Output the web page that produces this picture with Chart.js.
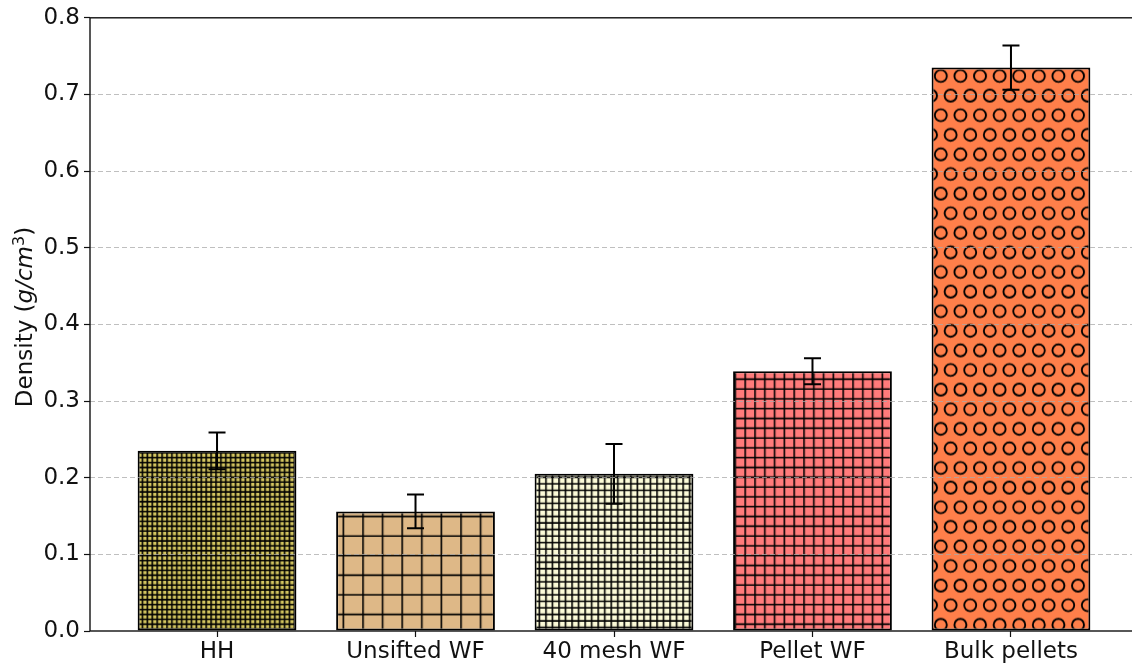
<!DOCTYPE html>
<html>
<head>
<meta charset="utf-8">
<script src="https://cdn.jsdelivr.net/npm/chart.js@4/dist/chart.umd.min.js"></script>
<style>
  html, body { margin: 0; padding: 0; background: #fff; overflow: hidden; }
  #wrap { width: 1132px; height: 666px; overflow: hidden; }
  canvas { display: block; }
</style>
</head>
<body>
<div id="wrap"><canvas id="chart" width="1140" height="666"></canvas></div>
<script>
// Bulk density of each material, with standard deviation
const categories = ['HH', 'Unsifted WF', '40 mesh WF', 'Pellet WF', 'Bulk pellets'];
const density = [0.235, 0.156, 0.205, 0.339, 0.735];
const densityErr = [0.024, 0.022, 0.039, 0.017, 0.029];
const yTickValues = [0.0, 0.1, 0.2, 0.3, 0.4, 0.5, 0.6, 0.7, 0.8];

// Fill colours and hatch styles per bar
const fillColors = ['#d4c660', '#deb887', '#fcfbd8', '#ff7b7b', '#ff7f4a'];
const hatchKinds = ['grid4', 'grid1', 'grid3', 'grid2', 'circles'];

const FONT = "'DejaVu Sans', sans-serif";
const UNIT = 19.6; // hatch repeat unit in px

function gridPattern(bg, perUnit) {
  const tile = UNIT * 5;
  const c = document.createElement('canvas');
  c.width = tile; c.height = tile;
  const g = c.getContext('2d');
  g.fillStyle = bg;
  g.fillRect(0, 0, tile, tile);
  g.strokeStyle = '#000';
  g.lineWidth = 1.6;
  const step = UNIT / perUnit;
  const n = Math.round(tile / step);
  g.beginPath();
  for (let k = 0; k <= n; k++) {
    const p = k * step;
    g.moveTo(p, 0); g.lineTo(p, tile);
    g.moveTo(0, p); g.lineTo(tile, p);
  }
  g.stroke();
  const pat = g.createPattern(c, 'repeat');
  pat.setTransform(new DOMMatrix().translate(10.2, 6.8));
  return pat;
}

function circlePattern(bg) {
  const w = UNIT * 5, h = UNIT * 10;
  const c = document.createElement('canvas');
  c.width = w; c.height = h;
  const g = c.getContext('2d');
  g.fillStyle = bg;
  g.fillRect(0, 0, w, h);
  g.strokeStyle = '#000';
  g.lineWidth = 1.9;
  for (let r = -1; r <= 11; r++) {
    const off = (Math.abs(r) % 2 === 1) ? UNIT / 2 : 0;
    for (let col = -1; col <= 6; col++) {
      g.beginPath();
      g.arc(col * UNIT + off, r * UNIT, 6, 0, Math.PI * 2);
      g.stroke();
    }
  }
  const pat = g.createPattern(c, 'repeat');
  pat.setTransform(new DOMMatrix().translate(0, -2.4));
  return pat;
}

function makeFill(kind, color) {
  if (kind === 'circles') return circlePattern(color);
  return gridPattern(color, parseInt(kind.replace('grid', ''), 10));
}

const fills = hatchKinds.map((k, i) => makeFill(k, fillColors[i]));

// Error bars with caps
const errorBars = {
  id: 'errorBars',
  afterDatasetsDraw(chart) {
    const ctx = chart.ctx;
    const y = chart.scales.y;
    const meta = chart.getDatasetMeta(0);
    ctx.save();
    ctx.strokeStyle = '#000';
    ctx.lineWidth = 2;
    meta.data.forEach((bar, i) => {
      const x = bar.x;
      const yTop = y.getPixelForValue(density[i] + densityErr[i]);
      const yBot = y.getPixelForValue(density[i] - densityErr[i]);
      ctx.beginPath();
      ctx.moveTo(x, yTop); ctx.lineTo(x, yBot);
      ctx.moveTo(x - 8.5, yTop); ctx.lineTo(x + 8.5, yTop);
      ctx.moveTo(x - 8.5, yBot); ctx.lineTo(x + 8.5, yBot);
      ctx.stroke();
    });
    ctx.restore();
  }
};

// Axes frame and y-axis title with italic units
const frameAndTitle = {
  id: 'frameAndTitle',
  afterDraw(chart) {
    const ctx = chart.ctx;
    const a = chart.chartArea;
    ctx.save();
    ctx.strokeStyle = '#111';
    ctx.lineWidth = 1.4;
    ctx.strokeRect(a.left, a.top, a.right - a.left, a.bottom - a.top);

    const parts = [
      { t: 'Density (', f: '23px ' + FONT, dy: 0 },
      { t: 'g/cm', f: 'oblique 23px ' + FONT, dy: 0 },
      { t: '3', f: '16px ' + FONT, dy: -8 },
      { t: ')', f: '23px ' + FONT, dy: 0 }
    ];
    let total = 0;
    parts.forEach(p => { ctx.font = p.f; p.w = ctx.measureText(p.t).width; total += p.w; });
    ctx.translate(32, 317);
    ctx.rotate(-Math.PI / 2);
    ctx.fillStyle = '#111';
    ctx.textBaseline = 'alphabetic';
    let x = -total / 2;
    parts.forEach(p => {
      ctx.font = p.f;
      ctx.fillText(p.t, x, p.dy);
      x += p.w;
    });
    ctx.restore();
  }
};

new Chart(document.getElementById('chart'), {
  type: 'bar',
  data: {
    datasets: [{
      data: density.map((v, i) => ({ x: i, y: v })),
      backgroundColor: fills,
      borderColor: '#000',
      borderWidth: 2,
      borderSkipped: false,
      barPercentage: 0.8,
      categoryPercentage: 1.0
    }]
  },
  options: {
    responsive: false,
    animation: false,
    devicePixelRatio: 1,
    layout: { padding: { left: 0, right: 2, top: 17, bottom: 0 } },
    plugins: { legend: { display: false }, tooltip: { enabled: false } },
    scales: {
      x: {
        type: 'linear',
        offset: false,
        min: -0.64,
        max: 4.64,
        afterBuildTicks(scale) { scale.ticks = categories.map((c, i) => ({ value: i })); },
        afterFit(scale) { scale.height = 35; },
        ticks: {
          callback: (v) => categories[v] ?? '',
          color: '#111',
          font: { family: FONT, size: 23 },
          padding: 1,
          maxRotation: 0,
          autoSkip: false
        },
        grid: {
          display: true,
          offset: false,
          drawOnChartArea: false,
          drawTicks: true,
          tickLength: 6,
          tickColor: '#111',
          tickWidth: 1.2
        },
        border: { display: false }
      },
      y: {
        min: 0,
        max: 0.8,
        afterBuildTicks(scale) { scale.ticks = yTickValues.map(v => ({ value: v })); },
        afterFit(scale) { scale.width = 90; },
        ticks: {
          callback: (v) => Number(v).toFixed(1),
          color: '#111',
          font: { family: FONT, size: 23 },
          padding: 4
        },
        grid: {
          z: 1,
          color: (ctx) => (ctx.tick && (ctx.tick.value === 0 || ctx.tick.value === 0.8)) ? 'rgba(0,0,0,0)' : 'rgba(170,170,170,0.75)',
          lineWidth: 1,
          drawTicks: true,
          tickLength: 6,
          tickColor: '#111',
          tickWidth: 1.2
        },
        border: { display: false, dash: [5, 3] }
      }
    }
  },
  plugins: [errorBars, frameAndTitle]
});
</script>
</body>
</html>
